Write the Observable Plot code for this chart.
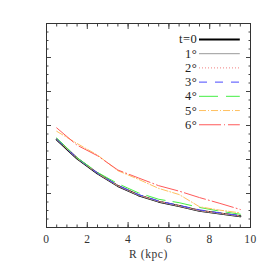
<!DOCTYPE html>
<html><head><meta charset="utf-8">
<script src="https://cdn.jsdelivr.net/npm/d3@7"></script>
<script src="https://cdn.jsdelivr.net/npm/@observablehq/plot@0.6"></script>
<style>
html,body{margin:0;padding:0;background:#fff;}
</style>
</head><body>
<div id="chart"></div>
<script>
const R = [0.5, 1.5, 2.5, 3.5, 4.5, 5.5, 6.5, 7.5, 8.5, 9.5];
const t0 = [2.59, 2.03, 1.59, 1.22, 0.95, 0.76, 0.63, 0.49, 0.41, 0.33];
const t1 = [2.59, 2.03, 1.59, 1.22, 0.95, 0.76, 0.63, 0.49, 0.41, 0.33];
const t2 = [2.60, 2.04, 1.60, 1.23, 0.96, 0.77, 0.64, 0.50, 0.42, 0.34];
const t3 = [2.60, 2.04, 1.60, 1.24, 0.97, 0.78, 0.65, 0.52, 0.43, 0.35];
const t4 = [2.63, 2.05, 1.62, 1.29, 1.02, 0.83, 0.73, 0.59, 0.48, 0.39];
const t5 = [2.83, 2.47, 2.13, 1.67, 1.42, 1.15, 0.97, 0.61, 0.51, 0.43];
const t6 = [2.93, 2.42, 2.11, 1.69, 1.46, 1.23, 1.07, 0.88, 0.71, 0.53];
const labels = ["t=0", "1°", "2°", "3°", "4°", "5°", "6°"];
const xTicksMajor = [0, 2, 4, 6, 8, 10];
const xTickLabels = ["0", "2", "4", "6", "8", "10"];

const seriesValues = [t0, t1, t2, t3, t4, t5, t6];
const styles = [
  {stroke: "#000", strokeWidth: 2, dash: null},
  {stroke: "#999", strokeWidth: 1, dash: null},
  {stroke: "#f08080", strokeWidth: 1, dash: "1,2"},
  {stroke: "#4a4aff", strokeWidth: 1, dash: "8,8"},
  {stroke: "#44ee44", strokeWidth: 1, dash: "19,8"},
  {stroke: "#ffc060", strokeWidth: 1, dash: "7,2,1,2"},
  {stroke: "#ff5a5a", strokeWidth: 1, dash: "22,3,1,3"}
];

const xMinor = d3.range(0, 10.001, 0.5);
const yMinor = d3.range(0, 6.001, 0.25);
const yMajor = d3.range(0, 6.001, 1);

const lineMarks = seriesValues.map((vals, i) => Plot.line(
  R.map((r, j) => ({x: r, y: vals[j]})),
  {x: "x", y: "y", stroke: styles[i].stroke, strokeWidth: styles[i].strokeWidth,
   strokeDasharray: styles[i].dash}
));

// legend rows (placed in data space)
const legTop = 5.53, legStep = 0.418;
const legend = labels.map((l, i) => ({label: l, y: legTop - i * legStep, i}));
const legendLines = legend.map(d => Plot.ruleY([d.y], {
  x1: 7.5, x2: 9.5, stroke: styles[d.i].stroke, strokeWidth: styles[d.i].strokeWidth,
  strokeDasharray: styles[d.i].dash
}));

const tickColor = "#444";
const font = "'Liberation Serif', serif";
const chart = Plot.plot({
  width: 273, height: 273,
  marginLeft: 46, marginRight: 23, marginTop: 23, marginBottom: 46,
  style: {fontFamily: font, fontSize: "11.5px", background: "#fff", color: "#333", letterSpacing: "0.6px"},
  x: {domain: [0, 10]},
  y: {domain: [0, 6]},
  marks: [
    Plot.axisX({anchor: "bottom", ticks: xMinor, tickSize: -2.5, tickFormat: () => "", stroke: tickColor, label: null}),
    Plot.axisX({anchor: "top", ticks: xMinor, tickSize: -2.5, tickFormat: () => "", stroke: tickColor, label: null}),
    Plot.axisY({anchor: "left", ticks: yMinor, tickSize: -2.5, tickFormat: () => "", stroke: tickColor, label: null}),
    Plot.axisY({anchor: "right", ticks: yMinor, tickSize: -2.5, tickFormat: () => "", stroke: tickColor, label: null}),
    Plot.axisX({anchor: "bottom", ticks: xTicksMajor, tickSize: -5, tickFormat: () => "", stroke: tickColor, label: null}),
    Plot.axisX({anchor: "top", ticks: xTicksMajor, tickSize: -5, tickFormat: () => "", stroke: tickColor, label: null}),
    Plot.axisY({anchor: "left", ticks: yMajor, tickSize: -5, tickFormat: () => "", stroke: tickColor, label: null}),
    Plot.axisY({anchor: "right", ticks: yMajor, tickSize: -5, tickFormat: () => "", stroke: tickColor, label: null}),
    Plot.axisX({anchor: "bottom", ticks: xTicksMajor, tickSize: 0, tickPadding: 7,
      tickFormat: (d) => xTickLabels[xTicksMajor.indexOf(d)], label: "R (kpc)", labelAnchor: "center",
      labelArrow: "none", labelOffset: 30, fill: "#333", fontWeight: "normal"}),
    Plot.frame({stroke: "#333"}),
    ...lineMarks,
    ...legendLines,
    Plot.text(legend, {x: 7.4, y: "y", text: "label", textAnchor: "end", fill: "#222", fontSize: 12.5})
  ]
});
document.getElementById("chart").appendChild(chart);
</script>
</body></html>
